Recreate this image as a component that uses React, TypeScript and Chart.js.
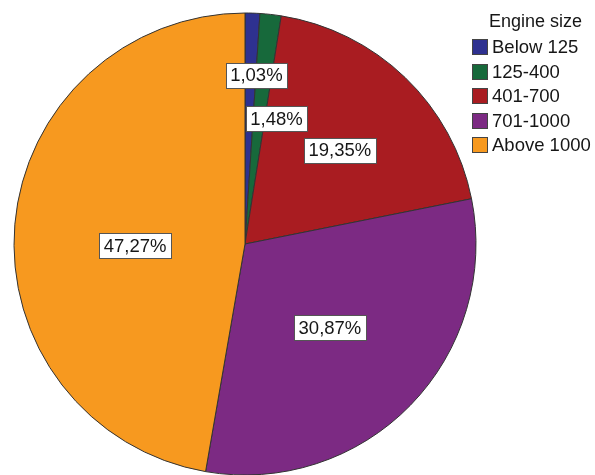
import React, { useEffect, useRef } from "react";
import { Chart, registerables } from "chart.js";

Chart.register(...registerables);

const categories = ["Below 125", "125-400", "401-700", "701-1000", "Above 1000"];
const percentages = [1.03, 1.48, 19.35, 30.87, 47.27];
const colors = ["#2e3190", "#17693b", "#a91c21", "#7c2a83", "#f7991f"];
const legendTitle = "Engine size";

const FONT = "'Liberation Sans', Arial, sans-serif";

// label placement (fraction of radius, angle offset in degrees)
const labelRadiusFrac = [0.733, 0.56, 0.578, 0.517, 0.476];
const labelAngleOffset = [2.0, 7.7, 1.4, 0.4, -5.9];

const labelPlugin = {
  id: "pctLabels",
  afterDatasetsDraw(chart: any) {
    const ctx = chart.ctx;
    const meta = chart.getDatasetMeta(0);
    ctx.save();
    ctx.font = `18.5px ${FONT}`;
    ctx.textAlign = "center";
    ctx.textBaseline = "middle";
    meta.data.forEach((arc: any, i: number) => {
      const { x, y, startAngle, endAngle, outerRadius } = arc.getProps(
        ["x", "y", "startAngle", "endAngle", "outerRadius"],
        true
      );
      const mid = (startAngle + endAngle) / 2 + (labelAngleOffset[i] * Math.PI) / 180;
      const r = outerRadius * labelRadiusFrac[i];
      const cx = x + Math.cos(mid) * r;
      const cy = y + Math.sin(mid) * r;
      const text = percentages[i].toFixed(2).replace(".", ",") + "%";
      const w = ctx.measureText(text).width + 9;
      const h = 25;
      ctx.fillStyle = "#ffffff";
      ctx.fillRect(Math.round(cx - w / 2) + 0.5, Math.round(cy - h / 2) + 0.5, Math.round(w), h);
      ctx.strokeStyle = "#555555";
      ctx.lineWidth = 1;
      ctx.strokeRect(Math.round(cx - w / 2) + 0.5, Math.round(cy - h / 2) + 0.5, Math.round(w), h);
      ctx.fillStyle = "#161616";
      ctx.fillText(text, cx, cy + 1);
    });
    ctx.restore();
  },
};

const legendPlugin = {
  id: "customLegend",
  afterDraw(chart: any) {
    const ctx = chart.ctx;
    ctx.save();
    ctx.fillStyle = "#161616";
    ctx.font = `18px ${FONT}`;
    ctx.textAlign = "left";
    ctx.textBaseline = "middle";
    ctx.fillText(legendTitle, 489, 22);
    ctx.font = `18.5px ${FONT}`;
    categories.forEach((c, i) => {
      const top = 39 + i * 24.5;
      ctx.fillStyle = colors[i];
      ctx.fillRect(472, Math.round(top), 16, 16);
      ctx.strokeStyle = "#444444";
      ctx.lineWidth = 1;
      ctx.strokeRect(472.5, Math.round(top) + 0.5, 15, 15);
      ctx.fillStyle = "#161616";
      ctx.fillText(c, 492, Math.round(top) + 9);
    });
    ctx.restore();
  },
};

export default function App() {
  const ref = useRef<HTMLCanvasElement | null>(null);
  useEffect(() => {
    document.body.style.margin = "0";
    const canvas = ref.current;
    if (!canvas) return;
    const chart = new Chart(canvas, {
      type: "pie",
      data: {
        labels: categories,
        datasets: [
          {
            data: percentages,
            backgroundColor: colors,
            borderColor: "#333333",
            borderWidth: 1,
            hoverOffset: 0,
            offset: 0,
          } as any,
        ],
      },
      options: {
        responsive: false,
        animation: false,
        radius: 231,
        layout: { padding: { left: 14, top: 13, right: 119, bottom: 0 } },
        plugins: {
          legend: { display: false },
          tooltip: { enabled: false },
        },
        events: [],
      } as any,
      plugins: [labelPlugin, legendPlugin],
    });
    return () => chart.destroy();
  }, []);
  return (
    <div style={{ width: 595, height: 475, background: "#ffffff" }}>
      <canvas ref={ref} width={595} height={475} style={{ display: "block" }} />
    </div>
  );
}
